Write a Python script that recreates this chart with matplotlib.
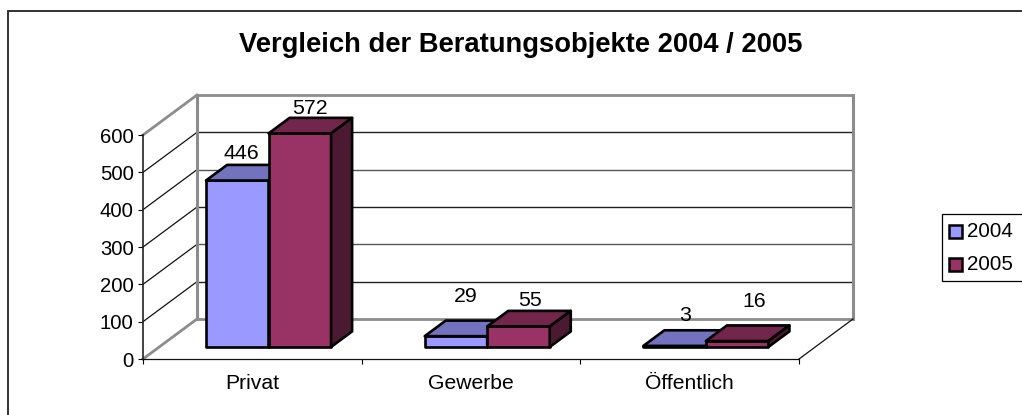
import matplotlib
matplotlib.use("Agg")
import matplotlib.pyplot as plt
from matplotlib.patches import Polygon, Rectangle

categories = ["Privat", "Gewerbe", "Öffentlich"]
years = ["2004", "2005"]
values_2004 = [446, 29, 3]
values_2005 = [572, 55, 16]
y_ticks = [0, 100, 200, 300, 400, 500, 600]
title = "Vergleich der Beratungsobjekte 2004 / 2005"

# label placement offsets (px) from the bar's front centre x and its back-top y
label_off_2004 = [(4, 5.5), (10, 19), (10.5, 9)]
label_off_2005 = [(10, 3.5), (12, 5), (17, 18)]

W, H = 1022, 415
C_2004 = dict(front="#9999FF", top="#7272BF", side="#4C4C7F")
C_2005 = dict(front="#993366", top="#72264C", side="#4C1933")
GREY = "#8C8C8C"
plt.rcParams["font.family"] = ["Liberation Sans", "DejaVu Sans"]
PT = 0.72

fig = plt.figure(figsize=(W / 100, H / 100), dpi=100, facecolor="white")
bg = fig.add_axes([0, 0, 1, 1], zorder=0)
bg.set_xlim(0, W); bg.set_ylim(H, 0); bg.axis("off")
bg.plot([8, 8, W], [H, 11, 11], color="#222222", lw=1.3, solid_joinstyle="miter")

x0, x1, ybot, ytop = 143, 799, 359, 135
ax = fig.add_axes([x0 / W, 1 - ybot / H, (x1 - x0) / W, (ybot - ytop) / H], zorder=1)
ax.set_xlim(0, 3); ax.set_ylim(0, 600)
ax.patch.set_alpha(0)
for s in ("top", "right"):
    ax.spines[s].set_visible(False)
ax.spines["left"].set_linewidth(1.2); ax.spines["left"].set_color("#222222")
ax.spines["bottom"].set_linewidth(0.9); ax.spines["bottom"].set_color("#111111")

DX = 54 / ((x1 - x0) / 3)
DY = 40 / ((ybot - ytop) / 600)
def proj(x, y, d):
    return (x + d * DX, y + d * DY)

for v in y_ticks:
    is_edge = v in (0, 600)
    xs, ys = zip(proj(0, v, 1), proj(3, v, 1))
    ax.plot(xs, ys, color=GREY if is_edge else ("#222222" if v % 200 else "#555555"),
            lw=2.0 if is_edge else 1.0, clip_on=False, zorder=1)
    xs, ys = zip(proj(0, v, 0), proj(0, v, 1))
    ax.plot(xs, ys, color=GREY if is_edge else "#111111",
            lw=2.0 if is_edge else 0.9, clip_on=False, zorder=1)
for xe in (0, 3):
    xs, ys = zip(proj(xe, 0, 1), proj(xe, 600, 1))
    ax.plot(xs, ys, color=GREY, lw=2.2, clip_on=False, zorder=1)
xs, ys = zip(proj(3, 0, 0), proj(3, 0, 1))
ax.plot(xs, ys, color="#111111", lw=0.9, clip_on=False, zorder=1)

D0, D1 = 0.30, 0.69
BW = 62.5 / ((x1 - x0) / 3)

def box(xl, v, colors, z):
    xr = xl + BW
    faces = [
        ([proj(xl, 0, D0), proj(xr, 0, D0), proj(xr, v, D0), proj(xl, v, D0)], colors["front"]),
        ([proj(xl, v, D0), proj(xr, v, D0), proj(xr, v, D1), proj(xl, v, D1)], colors["top"]),
        ([proj(xr, 0, D0), proj(xr, 0, D1), proj(xr, v, D1), proj(xr, v, D0)], colors["side"]),
    ]
    for pts, c in faces:
        ax.add_patch(Polygon(pts, closed=True, facecolor=c, edgecolor="black",
                             lw=1.9, joinstyle="round", clip_on=False, zorder=z))

for i in range(len(categories)):
    c = i + 0.5
    box(c - BW, values_2004[i], C_2004, 3)
    box(c, values_2005[i], C_2005, 4)
    for xc, v, (ox, oy) in ((c - BW, values_2004[i], label_off_2004[i]),
                            (c, values_2005[i], label_off_2005[i])):
        fx, _ = proj(xc + BW / 2, v, D0)
        _, by = proj(xc + BW / 2, v, D1)
        ax.annotate(str(v), (fx, by), xytext=(ox * PT, oy * PT), textcoords="offset points",
                    ha="center", va="baseline", fontsize=15.3, color="black",
                    zorder=6, annotation_clip=False)

ax.set_xticks(range(4), [""] * 4)
for i, name in enumerate(categories):
    ax.annotate(name, (i + 0.5, 0), xytext=(0, -30 * PT), textcoords="offset points",
                ha="center", va="baseline", fontsize=15.2, annotation_clip=False)
ax.set_yticks(y_ticks, [str(v) for v in y_ticks], fontsize=14.6)
ax.tick_params(axis="x", length=3.5, width=0.8, pad=2)
ax.tick_params(axis="y", length=3.5, width=0.8, pad=3.2)

fig.text(521 / W, 1 - 52 / H, title, ha="center", va="baseline",
         fontsize=19.7, fontweight="bold")

bg.add_patch(Rectangle((942, 214), 90, 67, facecolor="white", edgecolor="black", lw=0.9))
for name, c, yc in zip(years, (C_2004, C_2005), (231, 264.7)):
    bg.add_patch(Rectangle((949, yc - 6.5), 13, 13, facecolor=c["front"], edgecolor="black", lw=1.8))
    bg.text(967, yc, name, ha="left", va="center", fontsize=14.8)

fig.savefig("out.png", dpi=100, facecolor="white")
